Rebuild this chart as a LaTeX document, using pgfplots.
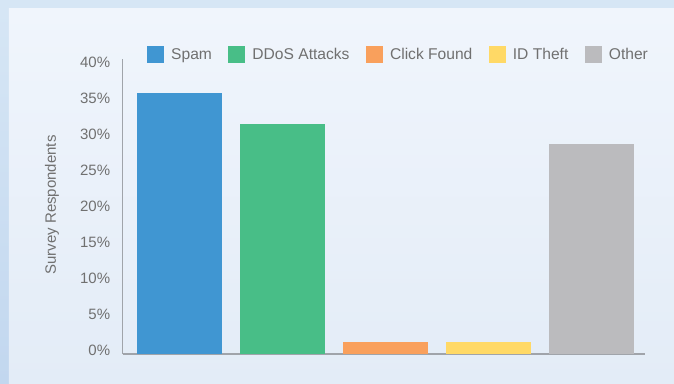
\documentclass[border=0pt]{standalone}
\usepackage{pgfplots}
\pgfplotsset{compat=1.18}
\usepackage{fontspec}
\setmainfont{Liberation Sans}
\definecolor{cspam}{HTML}{4096D2}
\definecolor{cddos}{HTML}{48BE87}
\definecolor{cclick}{HTML}{F9A05C}
\definecolor{cid}{HTML}{FFD966}
\definecolor{cother}{HTML}{BBBBBE}
\definecolor{txt}{HTML}{707070}
\definecolor{axl}{HTML}{A0A4AA}
\definecolor{bandc}{HTML}{D6E6F5}
\definecolor{stripc}{HTML}{C2D7EF}
\definecolor{paneltop}{HTML}{F0F5FC}
\definecolor{panelbot}{HTML}{E3ECF7}
\begin{document}
\begin{tikzpicture}
\useasboundingbox (-122.7pt,-29pt) rectangle (551.3pt,354pt);
\fill[bandc] (-122.7pt,-29pt) rectangle (551.3pt,354pt);
\shade[top color=bandc, bottom color=stripc] (-122.7pt,-29pt) rectangle (-113.7pt,345pt);
\shade[top color=paneltop, bottom color=panelbot] (-113.7pt,-29pt) rectangle (551.3pt,345pt);
\begin{axis}[
  at={(0,0)}, anchor=south west,
  scale only axis, width=522pt, height=295pt,
  xmin=-0.551, xmax=4.519, ymin=0, ymax=40.97,
  axis x line=bottom, axis y line=left,
  x axis line style={-, draw=axl, line width=1.8pt},
  y axis line style={-, draw=axl, line width=1.2pt},
  xtick=\empty,
  ytick={0,5,10,15,20,25,30,35,40},
  major tick length=0pt,
  yticklabel={\pgfmathprintnumber{\tick}\%},
  /pgf/number format/assume math mode=true,
  yticklabel style={font=\fontsize{15}{17}\selectfont, text=txt, anchor=east, xshift=-9pt, yshift=4pt},
  ylabel={Survey Respondents},
  ylabel style={font=\fontsize{15}{17}\selectfont, text=txt, at={(axis description cs:-0.1354,0.505)}, anchor=center, rotate=0},
  ybar, bar width=85pt, bar shift=0pt,
  legend columns=5,
  legend style={at={(24.3pt,299pt)}, anchor=west, draw=none, fill=none,
    font=\fontsize{15.6}{17}\selectfont, text=txt,
    /tikz/every odd column/.append style={column sep=5pt},
    /tikz/every even column/.append style={column sep=14.5pt},
    inner sep=0pt},
  legend image code/.code={\fill[#1] (0pt,-8.5pt) rectangle (17pt,8.5pt);},
]
\addplot[fill=cspam, draw=none] coordinates {(0,36.2)};
\addlegendentry{Spam}
\addplot[fill=cddos, draw=none] coordinates {(1,31.9)};
\addlegendentry{DDoS Attacks}
\addplot[fill=cclick, draw=none] coordinates {(2,1.7)};
\addlegendentry{Click Found}
\addplot[fill=cid, draw=none] coordinates {(3,1.7)};
\addlegendentry{ID Theft}
\addplot[fill=cother, draw=none] coordinates {(4,29.2)};
\addlegendentry{Other}
\end{axis}
\end{tikzpicture}
\end{document}
